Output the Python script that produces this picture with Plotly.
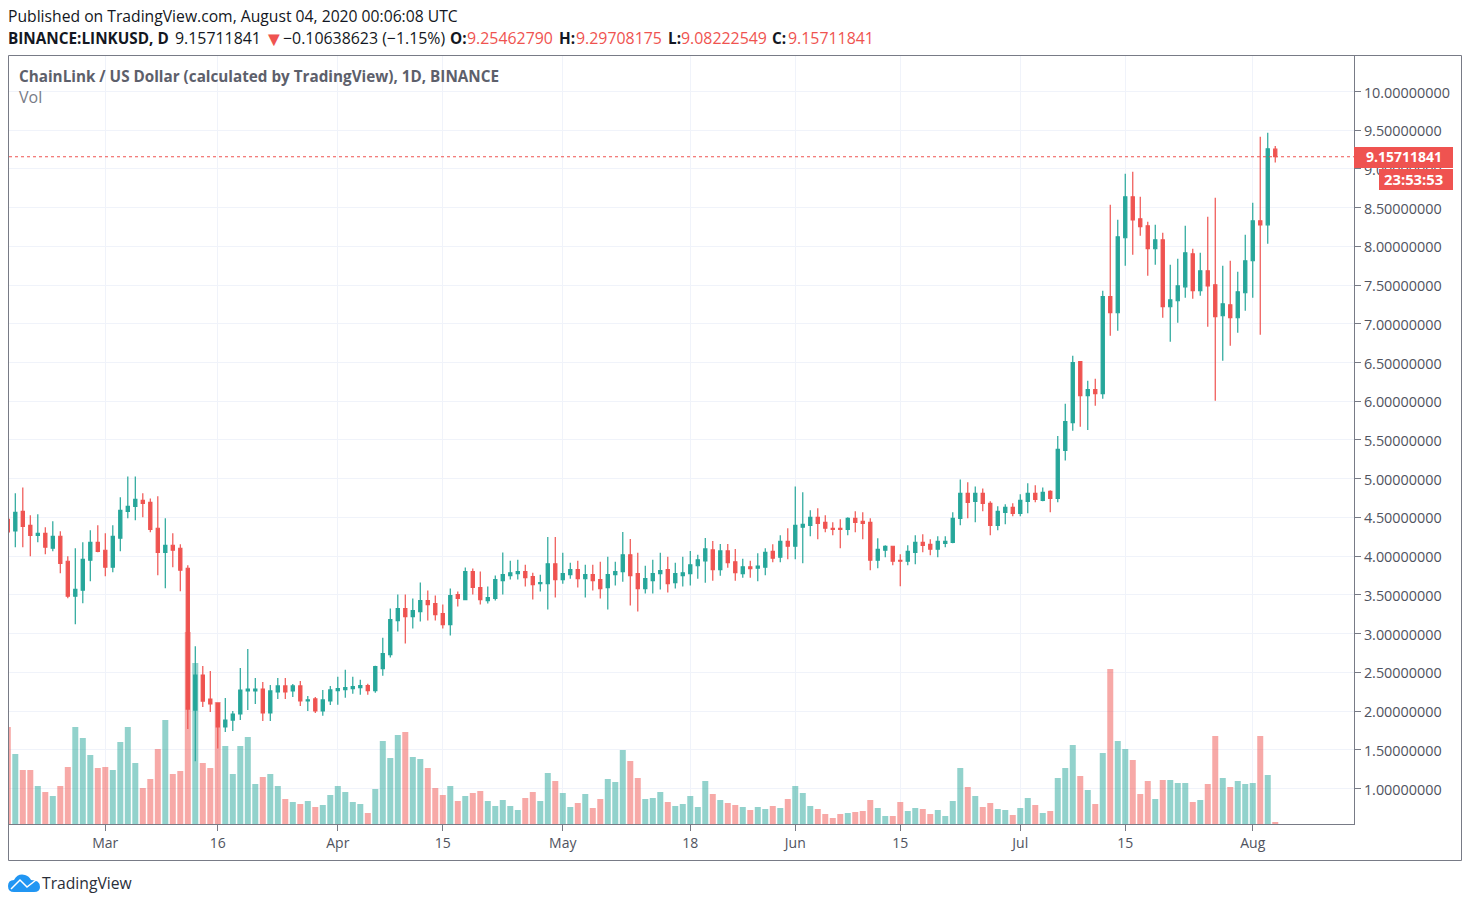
import pandas as pd
import plotly.graph_objects as go

# daily LINK/USD candles, 17 Feb - 4 Aug 2020
opens = [4.476, 4.325, 4.579, 4.398, 4.269, 4.295, 4.102, 4.257, 3.934, 3.483,
         3.560, 3.947, 4.179, 4.076, 3.857, 4.231, 4.579, 4.643, 4.721, 4.695,
         4.360, 4.050, 4.141, 4.102, 3.844, 2.013, 2.465, 2.155, 2.104, 1.794,
         1.884, 1.962, 2.260, 2.260, 2.285, 1.976, 2.247, 2.324, 2.260, 2.324,
         2.131, 2.157, 2.002, 2.131, 2.263, 2.276, 2.289, 2.302, 2.328, 2.263,
         2.547, 2.728, 3.168, 3.323, 3.220, 3.284, 3.427, 3.388, 3.259, 3.116,
         3.504, 3.440, 3.802, 3.595, 3.427, 3.453, 3.684, 3.748, 3.774, 3.800,
         3.735, 3.645, 3.645, 3.902, 3.697, 3.761, 3.825, 3.709, 3.761, 3.697,
         3.594, 3.761, 3.800, 4.017, 3.774, 3.581, 3.684, 3.774, 3.825, 3.658,
         3.748, 3.774, 3.876, 3.940, 4.081, 3.825, 4.068, 3.927, 3.774, 3.863,
         3.844, 3.857, 4.063, 3.986, 4.192, 4.128, 4.373, 4.398, 4.502, 4.437,
         4.360, 4.360, 4.347, 4.489, 4.450, 4.437, 3.947, 4.076, 4.128, 3.947,
         3.934, 4.050, 4.179, 4.153, 4.089, 4.166, 4.179, 4.489, 4.811, 4.708,
         4.811, 4.682, 4.398, 4.566, 4.630, 4.553, 4.708, 4.811, 4.721, 4.837,
         4.746, 5.365, 5.724, 6.511, 6.072, 6.150, 6.098, 7.350, 7.143, 8.111,
         8.640, 8.356, 8.266, 7.969, 8.085, 7.220, 7.298, 7.478, 7.904, 7.427,
         7.685, 7.504, 7.104, 7.246, 7.078, 7.401, 7.814, 8.330, 8.278, 9.25462790]
highs = [4.550, 4.811, 4.888, 4.527, 4.540, 4.373, 4.450, 4.321, 3.999, 4.102,
         4.179, 4.334, 4.398, 4.295, 4.398, 4.759, 5.030, 5.030, 4.811, 4.746,
         4.772, 4.489, 4.295, 4.153, 3.883, 2.838, 2.581, 2.516, 2.110, 2.168,
         2.000, 2.555, 2.800, 2.426, 2.376, 2.337, 2.427, 2.427, 2.350, 2.388,
         2.195, 2.182, 2.273, 2.324, 2.444, 2.534, 2.444, 2.405, 2.353, 2.586,
         2.948, 3.323, 3.504, 3.504, 3.453, 3.659, 3.556, 3.491, 3.375, 3.582,
         3.543, 3.853, 3.841, 3.802, 3.608, 3.750, 4.047, 3.940, 3.953, 3.889,
         3.786, 3.761, 4.248, 4.248, 4.043, 3.915, 3.940, 3.889, 3.889, 3.927,
         3.991, 3.927, 4.312, 4.222, 4.043, 3.876, 3.953, 4.043, 3.991, 3.915,
         3.991, 4.068, 4.017, 4.235, 4.197, 4.158, 4.158, 4.094, 3.966, 3.940,
         4.037, 4.102, 4.153, 4.269, 4.360, 4.901, 4.824, 4.592, 4.618, 4.527,
         4.437, 4.476, 4.502, 4.579, 4.566, 4.489, 4.231, 4.141, 4.128, 4.024,
         4.140, 4.269, 4.282, 4.218, 4.257, 4.257, 4.566, 4.991, 4.953, 4.901,
         4.875, 4.708, 4.643, 4.669, 4.682, 4.798, 4.940, 4.914, 4.888, 4.850,
         5.550, 5.969, 6.588, 6.511, 6.266, 6.291, 7.427, 8.537, 8.343, 8.937,
         8.962, 8.640, 8.317, 8.278, 8.175, 7.762, 7.840, 8.266, 7.969, 7.917,
         8.382, 8.627, 7.750, 7.814, 7.672, 8.150, 8.562, 9.414, 9.466, 9.29708175]
lows = [4.250, 4.115, 4.115, 3.999, 4.179, 4.025, 4.063, 3.780, 3.457, 3.122,
        3.393, 3.676, 4.050, 3.741, 3.792, 4.063, 4.489, 4.463, 4.501, 4.308,
        3.754, 3.586, 3.857, 3.547, 1.768, 1.353, 2.052, 1.988, 1.517, 1.730,
        1.743, 1.884, 2.013, 2.091, 1.873, 1.873, 2.157, 2.157, 2.182, 2.066,
        2.002, 1.976, 1.938, 2.079, 2.082, 2.172, 2.224, 2.211, 2.211, 2.237,
        2.457, 2.690, 3.026, 2.871, 3.065, 3.155, 3.168, 3.168, 3.065, 2.974,
        3.349, 3.440, 3.504, 3.375, 3.388, 3.427, 3.504, 3.697, 3.697, 3.607,
        3.440, 3.543, 3.312, 3.466, 3.645, 3.709, 3.594, 3.466, 3.556, 3.453,
        3.312, 3.620, 3.671, 3.363, 3.286, 3.517, 3.517, 3.568, 3.530, 3.581,
        3.607, 3.620, 3.709, 3.658, 3.684, 3.748, 3.850, 3.684, 3.722, 3.722,
        3.676, 3.754, 3.921, 3.921, 3.960, 3.960, 3.908, 4.257, 4.218, 4.308,
        4.270, 4.102, 4.270, 4.308, 4.218, 3.818, 3.844, 3.986, 3.883, 3.612,
        3.883, 3.896, 4.050, 4.012, 3.986, 4.115, 4.166, 4.398, 4.489, 4.437,
        4.579, 4.270, 4.334, 4.411, 4.514, 4.514, 4.553, 4.695, 4.708, 4.566,
        4.695, 5.236, 5.620, 5.672, 5.630, 5.943, 6.033, 6.846, 6.911, 7.750,
        7.891, 8.137, 7.620, 7.762, 7.078, 6.769, 7.014, 7.337, 7.324, 7.362,
        6.962, 6.008, 6.524, 6.717, 6.885, 7.169, 7.337, 6.859, 8.033, 9.08222549]
closes = [4.312, 4.566, 4.385, 4.269, 4.295, 4.115, 4.257, 3.908, 3.483, 3.573,
          3.960, 4.179, 4.063, 3.857, 4.257, 4.592, 4.643, 4.734, 4.682, 4.347,
          4.050, 4.141, 4.076, 3.818, 2.026, 2.465, 2.129, 2.091, 1.794, 1.884,
          1.962, 2.271, 2.285, 2.285, 1.976, 2.260, 2.324, 2.247, 2.324, 2.131,
          2.144, 2.002, 2.144, 2.273, 2.289, 2.302, 2.315, 2.328, 2.263, 2.573,
          2.741, 3.181, 3.323, 3.220, 3.297, 3.427, 3.375, 3.246, 3.116, 3.491,
          3.453, 3.802, 3.595, 3.440, 3.466, 3.698, 3.763, 3.786, 3.800, 3.722,
          3.632, 3.658, 3.902, 3.697, 3.774, 3.825, 3.709, 3.761, 3.684, 3.581,
          3.761, 3.800, 4.017, 3.748, 3.581, 3.709, 3.774, 3.812, 3.645, 3.774,
          3.786, 3.889, 3.953, 4.094, 3.825, 4.068, 3.915, 3.786, 3.863, 3.838,
          3.870, 4.050, 3.973, 4.192, 4.128, 4.398, 4.411, 4.502, 4.424, 4.360,
          4.347, 4.347, 4.489, 4.437, 4.424, 3.947, 4.089, 4.128, 3.934, 3.934,
          4.063, 4.179, 4.140, 4.089, 4.192, 4.192, 4.489, 4.811, 4.695, 4.811,
          4.682, 4.398, 4.579, 4.630, 4.553, 4.721, 4.811, 4.734, 4.824, 4.746,
          5.378, 5.737, 6.498, 6.072, 6.150, 6.098, 7.350, 7.143, 8.124, 8.640,
          8.343, 8.253, 7.969, 8.085, 7.220, 7.311, 7.491, 7.917, 7.427, 7.685,
          7.491, 7.091, 7.259, 7.078, 7.414, 7.814, 8.330, 8.278, 9.259, 9.15711841]
volumes = [97, 70, 54, 54, 38, 32, 28, 38, 57, 97,
           86, 69, 56, 57, 54, 82, 97, 61, 36, 45,
           75, 104, 50, 53, 192, 161, 61, 56, 122, 78,
           50, 78, 87, 40, 47, 50, 38, 25, 22, 20,
           23, 17, 19, 29, 38, 32, 22, 20, 11, 35,
           83, 66, 89, 92, 67, 65, 56, 36, 29, 38,
           23, 28, 31, 33, 23, 18, 24, 18, 14, 26,
           32, 23, 51, 43, 31, 17, 21, 30, 16, 25,
           45, 42, 74, 63, 46, 25, 26, 32, 22, 18,
           20, 28, 17, 43, 30, 24, 21, 19, 17, 14,
           17, 15, 18, 16, 25, 38, 31, 18, 15, 10,
           6, 10, 11, 12, 13, 24, 16, 8, 8, 22,
           13, 16, 15, 10, 14, 8, 23, 56, 37, 28,
           17, 21, 15, 14, 9, 16, 26, 19, 11, 13,
           46, 56, 79, 48, 34, 20, 71, 155, 83, 75,
           64, 30, 43, 25, 44, 44, 41, 41, 22, 24,
           40, 88, 46, 37, 43, 40, 41, 88, 49, 2]

tick_dates = ["2020-03-01", "2020-03-16", "2020-04-01", "2020-04-15", "2020-05-01", "2020-05-18",
              "2020-06-01", "2020-06-15", "2020-07-01", "2020-07-15", "2020-08-01"]
tick_labels = ["Mar", "16", "Apr", "15", "May", "18", "Jun", "15", "Jul", "15", "Aug"]
price_ticks = [i * 0.5 for i in range(2, 21)]

last_price = 9.15711841

up = "#26a69a"
down = "#ef5350"
up_vol = "rgba(38,166,154,0.5)"
down_vol = "rgba(239,83,80,0.5)"
grid = "#f0f3fa"
frame = "#787b86"
axis_text = "#50535e"
font = "Open Sans"

dates = pd.date_range("2020-02-17", periods=len(opens))
vol_colors = [up_vol if c >= o else down_vol for o, c in zip(opens, closes)]

# plot area in window pixels
left, right, top, bottom = 9, 1354, 56, 824


def xp(px):
    return (px - left) / (right - left)


def yp(py):
    return (bottom - py) / (bottom - top)


def label(px, py, text, color="#131722", size=15.9, bold=False, anchor="left"):
    if bold:
        text = "<b>" + text + "</b>"
    return dict(xref="paper", yref="paper", x=xp(px), y=yp(py), text=text, showarrow=False,
                xanchor=anchor, yanchor="middle", borderpad=0, borderwidth=0,
                font=dict(family=font, size=size, color=color))


fig = go.Figure()
fig.add_trace(go.Bar(x=dates, y=volumes, marker=dict(color=vol_colors, line_width=0), yaxis="y"))
fig.add_trace(go.Candlestick(x=dates, open=opens, high=highs, low=lows, close=closes, yaxis="y2",
                             increasing=dict(line=dict(color=up, width=1.2), fillcolor=up),
                             decreasing=dict(line=dict(color=down, width=1.2), fillcolor=down),
                             whiskerwidth=0))

annotations = [
    label(8, 16, "Published on TradingView.com, August 04, 2020 00:06:08 UTC", size=15.7),
    label(8, 38, "BINANCE:LINKUSD, D", bold=True, size=15.3),
    label(175, 38, "9.15711841"),
    label(264, 38, "▼", color=down, size=20),
    label(283, 38, "−0.10638623 (−1.15%)"),
    label(450, 38, "O:", bold=True, size=15.3),
    label(467, 38, "9.25462790", color=down),
    label(559, 38, "H:", bold=True, size=15.3),
    label(576, 38, "9.29708175", color=down),
    label(668, 38, "L:", bold=True, size=15.3),
    label(681, 38, "9.08222549", color=down),
    label(772, 38, "C:", bold=True, size=15.3),
    label(788, 38, "9.15711841", color=down),
    label(19, 76, "ChainLink / US Dollar (calculated by TradingView), 1D, BINANCE", color="#5d606b", bold=True, size=15.25),
    label(19, 97, "Vol", color="#787b86", size=16),
    label(1403.5, 157, "9.15711841", color="white", bold=True, size=14, anchor="center"),
    label(1413.5, 179, "23:53:53", color="white", bold=True, size=14.8, anchor="center"),
    label(42, 883, "TradingView", color="#2a2e39", size=15.7),
]

shapes = [
    # outer frame
    dict(type="rect", xref="paper", yref="paper", x0=xp(8.5), x1=xp(1461.5), y0=yp(860.5), y1=yp(55.5),
         line=dict(color=frame, width=1)),
    # last price line
    dict(type="line", xref="paper", yref="y2", x0=0, x1=1, y0=last_price, y1=last_price,
         line=dict(color=down, width=1, dash="dot")),
    # price and countdown tags
    dict(type="rect", xref="paper", yref="paper", x0=xp(1354), x1=xp(1453), y0=yp(168), y1=yp(147),
         fillcolor=down, line_width=0),
    dict(type="rect", xref="paper", yref="paper", x0=xp(1379), x1=xp(1453), y0=yp(190), y1=yp(169),
         fillcolor=down, line_width=0),
    # logo cloud
    dict(type="path", xref="paper", yref="paper", fillcolor="#2196f3", line_width=0,
         path=f"M {xp(8)} {yp(886)} Q {xp(8)} {yp(880)} {xp(14)} {yp(880)} "
              f"Q {xp(18)} {yp(873)} {xp(25)} {yp(875)} Q {xp(29)} {yp(876)} {xp(31)} {yp(880)} "
              f"Q {xp(40)} {yp(880)} {xp(40)} {yp(887)} Q {xp(40)} {yp(892)} {xp(34)} {yp(892)} "
              f"L {xp(14)} {yp(892)} Q {xp(8)} {yp(892)} {xp(8)} {yp(886)} Z"),
    dict(type="path", xref="paper", yref="paper", line=dict(color="white", width=1.5),
         path=f"M {xp(11)} {yp(889)} L {xp(20)} {yp(880)} L {xp(27)} {yp(887)} L {xp(36)} {yp(880)}"),
]

fig.update_layout(
    width=1470, height=907, autosize=False,
    margin=dict(l=left, r=1470 - right, t=top, b=907 - bottom, pad=0),
    paper_bgcolor="white", plot_bgcolor="white",
    showlegend=False, bargap=0.2, boxgap=0.4, hovermode=False,
    font=dict(family=font, size=14, color=axis_text),
    xaxis=dict(type="date", range=["2020-02-17 03:50", "2020-08-14 12:00"],
               tickmode="array", tickvals=tick_dates, ticktext=tick_labels,
               ticks="outside", ticklen=6, tickcolor=frame, showline=True, linecolor=frame,
               showgrid=True, gridcolor=grid, gridwidth=1, zeroline=False,
               rangeslider=dict(visible=False), tickfont=dict(size=14, color=axis_text)),
    yaxis=dict(range=[0, bottom - top], visible=False, showgrid=False),
    yaxis2=dict(range=[0.5416, 10.458], overlaying="y", side="right", anchor="x",
                tickmode="array", tickvals=price_ticks, tickformat=".8f",
                ticks="outside", ticklen=6, tickcolor=frame, showline=True, linecolor=frame,
                showgrid=True, gridcolor=grid, gridwidth=1, zeroline=False,
                ticklabelshift=1,
                tickfont=dict(size=14.4, color=axis_text)),
    annotations=annotations, shapes=shapes,
)

fig.write_html("out.html", config=dict(displayModeBar=False),
               post_script="document.body.style.margin='0';document.body.style.overflow='hidden';")
